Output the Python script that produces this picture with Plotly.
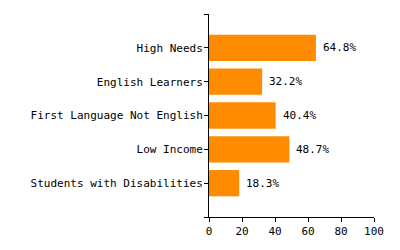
import plotly.graph_objects as go

categories = ["Students with Disabilities", "Low Income", "First Language Not English", "English Learners", "High Needs"]
values = [18.3, 48.7, 40.4, 32.2, 64.8]
positions = [1, 2, 3, 4, 5]
x_ticks = [0, 20, 40, 60, 80, 100]

FONT = "DejaVu Sans Mono"

fig = go.Figure(
    go.Bar(
        x=values,
        y=positions,
        orientation="h",
        width=0.78,
        marker=dict(color="#FF8C00", line=dict(width=0)),
        hoverinfo="skip",
    )
)

for v, p in zip(values, positions):
    fig.add_annotation(
        x=v, y=p, xref="x", yref="y",
        text=f"{v:.1f}%",
        showarrow=False,
        xanchor="left",
        yanchor="middle",
        xshift=5,
        font=dict(family=FONT, size=11, color="black"),
    )

fig.update_layout(
    width=400,
    height=250,
    margin=dict(l=209, r=26, t=14, b=30),
    paper_bgcolor="white",
    plot_bgcolor="white",
    showlegend=False,
    font=dict(family=FONT, size=11, color="black"),
    xaxis=dict(
        range=[0, 100],
        tickvals=x_ticks,
        ticks="outside",
        ticklen=4,
        tickcolor="black",
        showline=True,
        linecolor="black",
        linewidth=1,
        showgrid=False,
        zeroline=False,
        tickfont=dict(family=FONT, size=11, color="black"),
    ),
    yaxis=dict(
        range=[0, 6],
        tickvals=[0] + positions + [6],
        ticktext=[""] + categories + [""],
        ticks="outside",
        ticklen=4,
        tickcolor="black",
        ticklabelstandoff=-1,
        showline=True,
        linecolor="black",
        linewidth=1,
        showgrid=False,
        zeroline=False,
        tickfont=dict(family=FONT, size=11, color="black"),
    ),
)

fig.write_html("out.html")
